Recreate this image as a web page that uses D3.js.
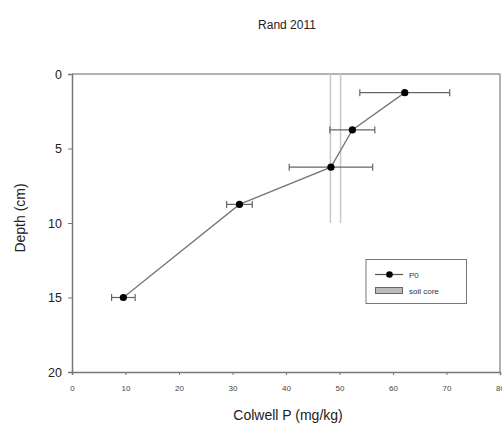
<!DOCTYPE html>
<html><head><meta charset="utf-8">
<script src="https://cdn.jsdelivr.net/npm/d3@7"></script>
<style>body{margin:0;background:#fff}svg{display:block}text{font-family:"Liberation Sans",Arial,sans-serif}</style>
</head><body><svg id="c" width="502" height="426"></svg>
<script>
const title = "Rand 2011";
const depths = [1.25, 3.75, 6.25, 8.75, 15];
const colwellP = [62.2, 52.4, 48.4, 31.3, 9.6];
const colwellErr = [8.4, 4.2, 7.8, 2.4, 2.2];
const soilCoreX = [48.3, 50.2];
const soilCoreDepth = [0, 10];
const xTicks = [0, 10, 20, 30, 40, 50, 60, 70, 80];
const yTicks = [0, 5, 10, 15, 20];
const legendLabels = ["P0", "soil core"];

const svg = d3.select("#c");
const x = d3.scaleLinear().domain([0, 80]).range([72, 500]);
const y = d3.scaleLinear().domain([0, 20]).range([74, 372]);

svg.append("text").attr("x", 287).attr("y", 29).attr("text-anchor", "middle")
  .attr("font-size", 12).attr("fill", "#222").text(title);

// box top/right
svg.append("line").attr("x1", x(0)).attr("x2", x(80)).attr("y1", y(0)).attr("y2", y(0)).attr("stroke", "#999").attr("stroke-width", 1.5);
svg.append("line").attr("x1", x(80)).attr("x2", x(80)).attr("y1", y(0)).attr("y2", y(20)).attr("stroke", "#999").attr("stroke-width", 1.5);

// soil core lines
soilCoreX.forEach(v => {
  svg.append("line").attr("x1", x(v)).attr("x2", x(v)).attr("y1", y(soilCoreDepth[0])).attr("y2", y(soilCoreDepth[1]))
    .attr("stroke", "#c8c8c8").attr("stroke-width", 1.5);
});

// axes
const yAx = svg.append("g").attr("transform", `translate(${x(0)},0)`)
  .call(d3.axisLeft(y).tickValues(yTicks).tickSize(4).tickPadding(6));
yAx.select(".domain").attr("stroke", "#777").attr("stroke-width", 1.5);
yAx.selectAll(".tick line").attr("stroke", "#777");
yAx.selectAll(".tick text").attr("font-size", 12.5).attr("fill", "#222").attr("font-family", "Liberation Sans, Arial, sans-serif");

const xAx = svg.append("g").attr("transform", `translate(0,${y(20)})`)
  .call(d3.axisBottom(x).tickValues(xTicks).tickSize(3).tickPadding(10));
xAx.select(".domain").attr("stroke", "#777").attr("stroke-width", 1.5);
xAx.selectAll(".tick line").attr("stroke", "#777");
xAx.selectAll(".tick text").attr("font-size", 8).attr("fill", "#444").attr("font-family", "Liberation Sans, Arial, sans-serif");

svg.append("text").attr("x", 288).attr("y", 420).attr("text-anchor", "middle")
  .attr("font-size", 14).attr("fill", "#222").text("Colwell P (mg/kg)");
svg.append("text").attr("transform", "translate(25,218) rotate(-90)").attr("text-anchor", "middle")
  .attr("font-size", 14).attr("fill", "#222").text("Depth (cm)");

// data line
const pts = depths.map((d, i) => ({d, v: colwellP[i], e: colwellErr[i]}));
svg.append("path").datum(pts)
  .attr("d", d3.line().x(p => x(p.v)).y(p => y(p.d)))
  .attr("fill", "none").attr("stroke", "#777").attr("stroke-width", 1.3);

// error bars
const eb = svg.append("g").attr("stroke", "#666").attr("stroke-width", 1.2);
pts.forEach(p => {
  eb.append("line").attr("x1", x(p.v - p.e)).attr("x2", x(p.v + p.e)).attr("y1", y(p.d)).attr("y2", y(p.d));
  [p.v - p.e, p.v + p.e].forEach(v => eb.append("line").attr("x1", x(v)).attr("x2", x(v)).attr("y1", y(p.d) - 3.5).attr("y2", y(p.d) + 3.5));
});
svg.append("g").selectAll("circle").data(pts).join("circle")
  .attr("cx", p => x(p.v)).attr("cy", p => y(p.d)).attr("r", 3.6).attr("fill", "#000");

// legend
const lg = svg.append("g");
lg.append("rect").attr("x", 366).attr("y", 259.5).attr("width", 100.5).attr("height", 44)
  .attr("fill", "#fff").attr("stroke", "#777").attr("stroke-width", 1);
lg.append("line").attr("x1", 375).attr("x2", 403).attr("y1", 274.5).attr("y2", 274.5).attr("stroke", "#555").attr("stroke-width", 1.2);
lg.append("circle").attr("cx", 389.5).attr("cy", 274.5).attr("r", 3.3).attr("fill", "#000");
lg.append("rect").attr("x", 375.5).attr("y", 287.5).attr("width", 27).attr("height", 6)
  .attr("fill", "#bbb").attr("stroke", "#666").attr("stroke-width", 1);
lg.append("text").attr("x", 409).attr("y", 277.5).attr("font-size", 8).attr("fill", "#333").text(legendLabels[0]);
lg.append("text").attr("x", 409).attr("y", 294).attr("font-size", 8).attr("fill", "#333").text(legendLabels[1]);
</script></body></html>
